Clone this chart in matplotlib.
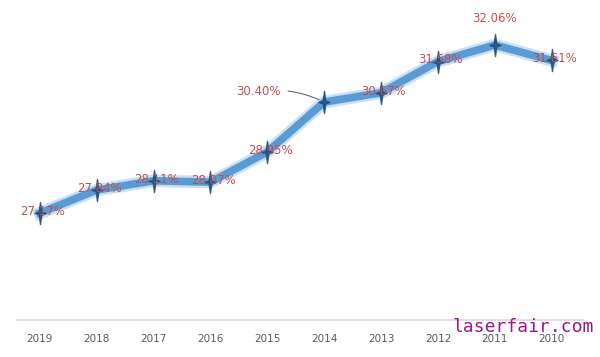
import numpy as np
import matplotlib.pyplot as plt
from matplotlib.path import Path

# data
years = ['2019', '2018', '2017', '2016', '2015', '2014', '2013', '2012', '2011', '2010']
share = [27.17, 27.84, 28.11, 28.07, 28.95, 30.40, 30.67, 31.58, 32.06, 31.61]
labels = ['27.17%', '27.84%', '28.11%', '28.07%', '28.95%', '30.40%',
          '30.67%', '31.58%', '32.06%', '31.61%']

# four-pointed star, taller than wide
star = Path([(0, 1), (0.12, 0.12), (0.5, 0), (0.12, -0.12), (0, -1),
             (-0.12, -0.12), (-0.5, 0), (-0.12, 0.12), (0, 1)],
            [Path.MOVETO] + [Path.LINETO] * 7 + [Path.CLOSEPOLY])

fig = plt.figure(figsize=(6, 3.57), dpi=100)
ax = fig.add_axes([17 / 600, 37 / 357, 566 / 600, 320 / 357])
x = np.arange(len(years))

ax.plot(x, share, color='#a9cbeb', lw=9, solid_joinstyle='round', alpha=0.6)
ax.plot(x, share, color='#5b9bd5', lw=5.5, solid_joinstyle='round')
ax.plot(x, share, ls='none', marker=star, ms=16, color='#1f4e79', alpha=0.85)

red = '#c0504d'
for i, (v, t) in enumerate(zip(share, labels)):
    if t == '30.40%':
        ax.annotate(t, xy=(i, v), xytext=(i - 1.15, v + 0.32), color=red,
                    fontsize=8.5, ha='center', va='center',
                    arrowprops=dict(arrowstyle='-', color='#595959', lw=0.7,
                                    connectionstyle='arc3,rad=-0.15', shrinkA=3, shrinkB=4))
    elif t == '32.06%':
        ax.text(i, v + 0.78, t, color=red, fontsize=8.5, ha='center', va='center')
    else:
        ax.text(i + 0.05, v + 0.05, t, color=red, fontsize=8.5, ha='center', va='center')

ax.set_xlim(-0.4, 9.55)
ax.set_ylim(24.06, 33.37)
ax.set_xticks(x)
ax.set_xticklabels(years, fontsize=7.5, color='#595959')
ax.tick_params(axis='x', length=0, pad=10)
ax.set_yticks([])
for s in ['top', 'left', 'right']:
    ax.spines[s].set_visible(False)
ax.spines['bottom'].set_color('#d9d9d9')
ax.spines['bottom'].set_linewidth(1.2)
ax.patch.set_alpha(0)

# watermark sits over the last tick labels, as in the source image
fig.text(0.99, 0.085, 'laserfair.com', color='#a0148f', fontsize=13,
         family='DejaVu Sans Mono', ha='right', va='center')

fig.savefig('out.png', dpi=100)
